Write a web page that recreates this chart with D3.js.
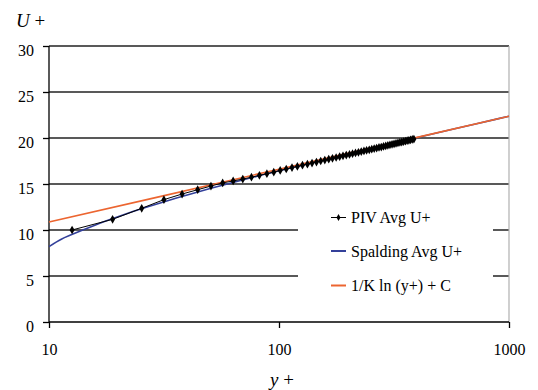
<!DOCTYPE html>
<html><head><meta charset="utf-8">
<script src="https://cdn.jsdelivr.net/npm/d3@7"></script>
<style>body{margin:0;background:#fff}svg{display:block}text{font-family:"Liberation Serif","Times New Roman","DejaVu Serif",serif;fill:#000}</style>
</head><body><svg id="c" width="538" height="390"></svg>
<script>
// PIV data
const pivYPlus = [12.6,18.9,25.3,31.6,37.9,44.3,50.6,56.9,63.2,69.6,75.9,82.2,88.6,94.9,101.2,107.5,113.9,120.2,126.5,132.9,139.2,145.5,151.8,158.2,164.5,170.8,177.2,183.5,189.8,196.1,202.5,208.8,215.1,221.5,227.8,234.1,240.4,246.8,253.1,259.4,265.8,272.1,278.4,284.7,291.1,297.4,303.7,310.1,316.4,322.7,329.0,335.4,341.7,348.0,354.4,360.7,367.0,373.3,379.7,386.0];
const pivUPlus = [10.00,11.16,12.36,13.30,13.91,14.38,14.78,15.12,15.33,15.54,15.74,15.94,16.12,16.29,16.47,16.63,16.78,16.91,17.04,17.16,17.28,17.39,17.50,17.60,17.70,17.79,17.88,17.97,18.06,18.14,18.22,18.30,18.38,18.45,18.52,18.59,18.66,18.72,18.78,18.85,18.91,18.97,19.02,19.08,19.14,19.20,19.26,19.31,19.36,19.41,19.46,19.52,19.56,19.61,19.66,19.71,19.75,19.80,19.85,19.89];
// Spalding curve
const spalYPlus = [10,11.31,12.56,14.02,15.74,17.78,20.22,23.15,26.68,30.96,36.15,42.46,50.15,59.53,84.95,122.9,179.6,264.4,391.2,580.6,863.6,1000];
const spalUPlus = [8.2,9.0,9.5,10.0,10.5,11.0,11.5,12.0,12.5,13.0,13.5,14.0,14.5,15.0,16.0,17.0,18.0,19.0,20.0,21.0,22.0,22.37];
// Log law 1/K ln(y+) + C
const logYPlus = [10,30,100,300,1000];
const logUPlus = [10.86,13.60,16.61,19.36,22.37];

const xTicks = [10,100,1000];
const yTicks = [0,5,10,15,20,25,30];
const seriesNames = ["PIV Avg U+","Spalding Avg U+","1/K ln (y+) + C"];
const colors = ["#000000","#33409a","#ec6530"];

const FONT = '"Liberation Serif","Times New Roman","DejaVu Serif",serif';
const svg = d3.select("#c");
const L=49,R=509,T=46,B=322;
const x = d3.scaleLog().domain([10,1000]).range([L,R]);
const y = d3.scaleLinear().domain([0,30]).range([B,T]);

// gridlines
svg.append("g").selectAll("line").data(yTicks.filter(d=>d>0)).join("line")
  .attr("x1",L).attr("x2",R).attr("y1",d=>y(d)).attr("y2",d=>y(d))
  .attr("stroke","#222").attr("stroke-width",1.3);
// right border
svg.append("line").attr("x1",R).attr("x2",R).attr("y1",T).attr("y2",B).attr("stroke","#b0b0b0").attr("stroke-width",1.2);

// axes
const yAxis = d3.axisLeft(y).tickValues(yTicks).tickSize(6).tickPadding(7).tickFormat(d3.format("d"));
const gy = svg.append("g").attr("transform",`translate(${L},0)`).call(yAxis);
const xAxis = d3.axisBottom(x).tickValues(xTicks).tickSize(6).tickPadding(16).tickFormat(d3.format("d"));
const gx = svg.append("g").attr("transform",`translate(0,${B})`).call(xAxis);
[gx,gy].forEach(g=>{
  g.attr("font-family",FONT).attr("font-size",16);
  g.select(".domain").attr("stroke","#000").attr("stroke-width",1.3);
  g.selectAll(".tick line").attr("stroke","#000").attr("stroke-width",1.3);
  g.selectAll("text").style("font-family",FONT).style("font-size","16px").attr("fill","#000");
});
gy.select(".domain").attr("d",`M0,${B}V${T}`);
gx.select(".domain").attr("d",`M${L},0H${R}`);
gy.selectAll(".tick text").attr("dy","0.62em").attr("x",-15);

// legend background
svg.append("rect").attr("x",298).attr("y",196).attr("width",195).attr("height",108).attr("fill","#fff");

const logData = logYPlus.map((v,i)=>[v,logUPlus[i]]);
const spalData = spalYPlus.map((v,i)=>[v,spalUPlus[i]]);
const pivData = pivYPlus.map((v,i)=>[v,pivUPlus[i]]);

svg.append("path").datum(spalData).attr("d",d3.line().x(d=>x(d[0])).y(d=>y(d[1])).curve(d3.curveMonotoneX)).attr("fill","none").attr("stroke",colors[1]).attr("stroke-width",1.6);
svg.append("path").datum(logData).attr("d",d3.line().x(d=>x(d[0])).y(d=>y(d[1]))).attr("fill","none").attr("stroke",colors[2]).attr("stroke-width",1.6);
svg.append("path").datum(pivData).attr("d",d3.line().x(d=>x(d[0])).y(d=>y(d[1]))).attr("fill","none").attr("stroke","#000").attr("stroke-width",1);
const diamond = d3.symbol().type(d3.symbolDiamond).size(22);
svg.append("g").selectAll("path").data(pivData).join("path")
  .attr("transform",d=>`translate(${x(d[0])},${y(d[1])})`).attr("d",diamond).attr("fill","#000");

// legend
const lg = svg.append("g");
const ly = [217.5,251,285.5];
seriesNames.forEach((n,i)=>{
  lg.append("line").attr("x1",331).attr("x2",346).attr("y1",ly[i]).attr("y2",ly[i])
    .attr("stroke",colors[i]).attr("stroke-width",i===0?1:2);
  if(i===0) lg.append("path").attr("transform",`translate(338.5,${ly[i]})`).attr("d",d3.symbol().type(d3.symbolDiamond).size(14)).attr("fill","#000");
  lg.append("text").attr("x",351).attr("y",ly[i]+5.5).style("font-size","16px").text(n);
});

// axis titles
svg.append("text").attr("x",16).attr("y",27).style("font-size","19px")
  .html('<tspan font-style="italic">U</tspan> +');
svg.append("text").attr("x",282).attr("y",386).attr("text-anchor","middle").style("font-size","19px")
  .html('<tspan font-style="italic">y</tspan> +');
</script></body></html>
